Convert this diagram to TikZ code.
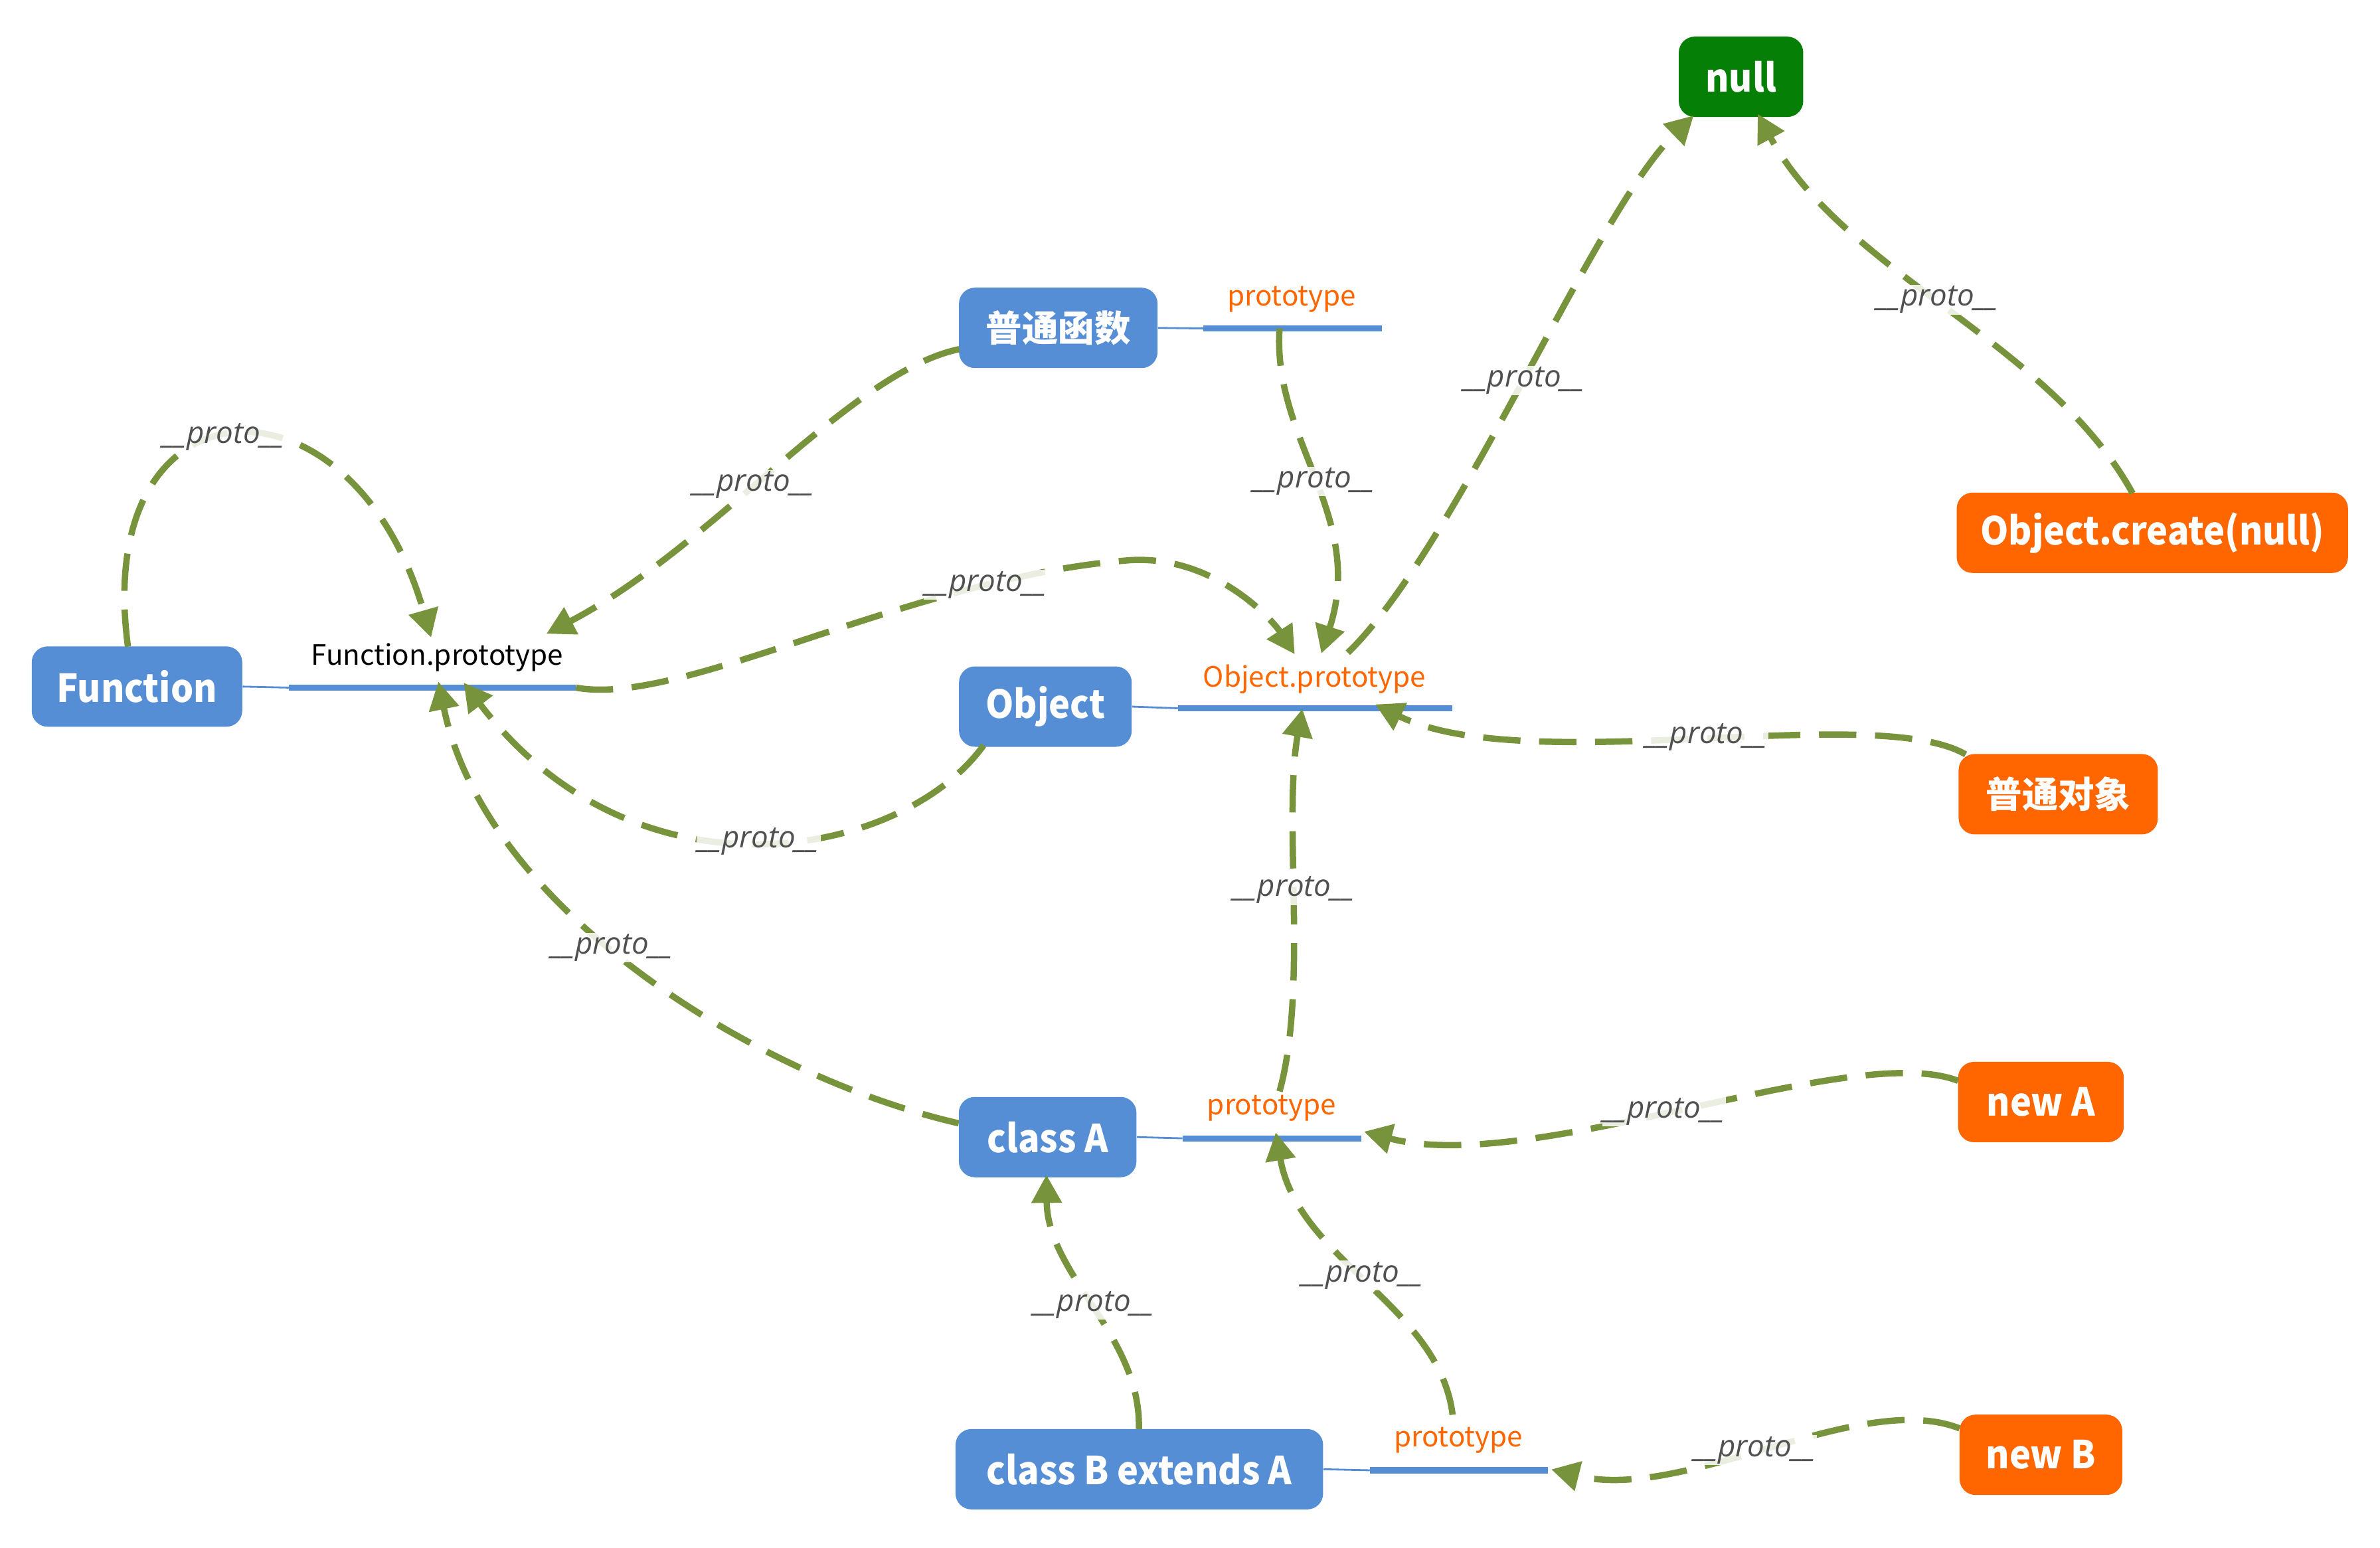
\documentclass[tikz,border=0pt]{standalone}
\usepackage{fontspec}
\setmainfont{Noto Sans CJK SC}
\newfontfamily\boxfont{Noto Sans CJK SC}[FakeStretch=0.93]
\newfontfamily\protofont{Open Sans}
\usetikzlibrary{arrows.meta}
\definecolor{boxblue}{HTML}{568ED6}
\definecolor{boxorange}{HTML}{FF6600}
\definecolor{boxgreen}{HTML}{067F06}
\definecolor{linkgreen}{HTML}{77933C}
\definecolor{labelgray}{HTML}{505050}
\tikzset{
  box/.style={rounded corners=0.24cm, minimum height=1.21cm, inner sep=0pt, text=white, font=\boxfont\fontsize{16.5}{20}\selectfont\bfseries},
  bluebox/.style={box, fill=boxblue},
  orangebox/.style={box, fill=boxorange},
  greenbox/.style={box, fill=boxgreen},
  cjk/.style={font=\fontsize{15.5}{18}\selectfont\bfseries},
  stemline/.style={draw=boxblue, line width=0.8pt},
  protobar/.style={draw=boxblue, line width=2.6pt},
  protoname/.style={font=\fontsize{12}{14}\selectfont, text=boxorange, inner sep=0pt},
  link/.style={draw=linkgreen, line width=2.7pt, dash pattern=on 16pt off 8pt, -{Triangle[length=12pt,width=12.5pt]}},
  plabel/.style={font=\protofont\itshape\fontsize{13}{15}\selectfont, text=labelgray, fill=white, fill opacity=0.85, text opacity=1, inner sep=0.5pt}
}
\begin{document}
\begin{tikzpicture}[x=0.022857cm, y=-0.022857cm]
\useasboundingbox (0,0) rectangle (1568,1019.4);

% boxes
\node[greenbox, minimum width=1.874cm] (null) at (1147,50.6) {null};
\node[bluebox, cjk, minimum width=2.99cm] (pf) at (697.2,216) {普通函数};
\node[orangebox, minimum width=5.893cm] (oc) at (1418,351) {Object.create(null)};
\node[bluebox, minimum width=3.17cm] (fn) at (90.25,452.3) {Function};
\node[bluebox, minimum width=2.60cm] (obj) at (688.7,465.5) {Object};
\node[orangebox, cjk, minimum width=3.0cm] (po) at (1356,523.2) {普通对象};
\node[orangebox, minimum width=2.496cm] (na) at (1344.6,726) {new A};
\node[bluebox, minimum width=2.675cm] (ca) at (690.2,749.1) {class A};
\node[bluebox, minimum width=5.536cm] (cb) at (750.6,967.9) {class B extends A};
\node[orangebox, minimum width=2.45cm] (nb) at (1344.6,958.4) {new B};

% prototype bars
\coordinate (fpA) at (190.3,453);
\coordinate (fpB) at (379.4,453);
\draw[stemline] (fn.east) -- (fpA);
\draw[protobar] (fpA) -- (fpB);
\node[protoname, text=black] (fpn) at (288,433.3) {Function.prototype};

\coordinate (ppA) at (792.7,216.4);
\coordinate (ppB) at (910.4,216.4);
\draw[stemline] (pf.east) -- (ppA);
\draw[protobar] (ppA) -- (ppB);
\node[protoname] (ppn) at (851,197.4) {prototype};

\coordinate (opA) at (776,466.6);
\coordinate (opB) at (956.6,466.6);
\draw[stemline] (obj.east) -- (opA);
\draw[protobar] (opA) -- (opB);
\node[protoname] (opn) at (866,447.4) {Object.prototype};

\coordinate (apA) at (779,749.9);
\coordinate (apB) at (896.7,749.9);
\draw[stemline] (ca.east) -- (apA);
\draw[protobar] (apA) -- (apB);
\node[protoname] (apn) at (837.8,730) {prototype};

\coordinate (bpA) at (902.5,968.6);
\coordinate (bpB) at (1019.6,968.6);
\draw[stemline] (cb.east) -- (bpA);
\draw[protobar] (bpA) -- (bpB);
\node[protoname] (bpn) at (960.8,949) {prototype};

% connector ends
\coordinate (e1s) at (84.3,426);
\coordinate (e1t) at (284,420);
\coordinate (e2s) at (632,230);
\coordinate (e2t) at (360,417.5);
\coordinate (e3t) at (853,431);
\coordinate (e4s) at (648,491);
\coordinate (e4t) at (305.5,449.7);
\coordinate (e5s) at (631.6,740);
\coordinate (e5t) at (288.8,449);
\coordinate (e6s) at (843,216.4);
\coordinate (e6t) at (870.5,430.5);
\coordinate (e7s) at (888,430);
\coordinate (e7t) at (1115.8,76.1);
\coordinate (e8s) at (1405,325);
\coordinate (e8t) at (1158,75);
\coordinate (e9s) at (1295,497);
\coordinate (e9t) at (906,464);
\coordinate (e10s) at (843,719);
\coordinate (e10t) at (858,467);
\coordinate (e11s) at (1290,712);
\coordinate (e11t) at (898.6,745.5);
\coordinate (e12s) at (750.3,941.4);
\coordinate (e12t) at (689.4,774);
\coordinate (e13s) at (957,932);
\coordinate (e13t) at (840.5,746);
\coordinate (e14s) at (1291,941);
\coordinate (e14t) at (1022,968);

% connectors
\draw[link] (e1s) .. controls (60,245) and (232,238) .. (e1t) node[plabel,pos=0.47] {\_\_proto\_\_};
\draw[link] (e2s) .. controls (560,245) and (470,360) .. (e2t) node[plabel,pos=0.55] {\_\_proto\_\_};
\draw[link] (fpB) .. controls (450,466) and (600,380) .. (745,369) node[plabel,pos=0.78] {\_\_proto\_\_} .. controls (800,366) and (838,408) .. (e3t);
\draw[link] (e4s) .. controls (595,565) and (420,600) .. (e4t) node[plabel,pos=0.5] {\_\_proto\_\_};
\draw[link] (e5s) .. controls (500,710) and (320,600) .. (e5t) node[plabel,pos=0.55] {\_\_proto\_\_};
\draw[link] (e6s) .. controls (838,290) and (900,340) .. (e6t) node[plabel,pos=0.5] {\_\_proto\_\_};
\draw[link] (e7s) .. controls (960,360) and (1050,140) .. (e7t) node[plabel,pos=0.5] {\_\_proto\_\_};
\draw[link] (e8s) .. controls (1350,225) and (1215,180) .. (e8t) node[plabel,pos=0.52] {\_\_proto\_\_};
\draw[link] (e9s) .. controls (1235,462) and (1005,513) .. (e9t) node[plabel,pos=0.48] {\_\_proto\_\_};
\draw[link] (e10s) .. controls (862,650) and (845,540) .. (e10t) node[plabel,pos=0.53] {\_\_proto\_\_};
\draw[link] (e11s) .. controls (1220,685) and (1010,775) .. (e11t) node[plabel,pos=0.53] {\_\_proto\_\_};
\draw[link] (e12s) .. controls (752,880) and (690,840) .. (e12t) node[plabel,pos=0.5] {\_\_proto\_\_};
\draw[link] (e13s) .. controls (948,860) and (855,830) .. (e13t) node[plabel,pos=0.52] {\_\_proto\_\_};
\draw[link] (e14s) .. controls (1225,915) and (1110,990) .. (e14t) node[plabel,pos=0.53] {\_\_proto\_\_};
\end{tikzpicture}
\end{document}
